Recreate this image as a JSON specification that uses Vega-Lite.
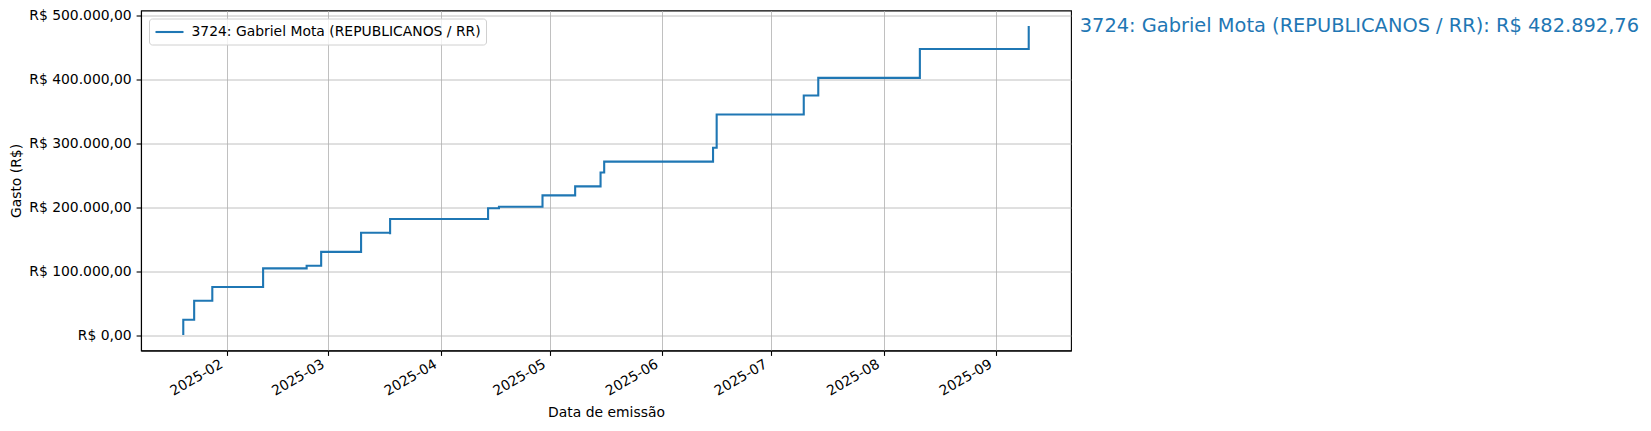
{
  "$schema": "https://vega.github.io/schema/vega-lite/v6.json",
  "width": 930,
  "height": 340,
  "autosize": {"type": "none"},
  "padding": {"left": 141, "top": 10.5, "right": 580, "bottom": 80.5},
  "background": "white",
  "config": {
    "locale": {"number": {"decimal": ",", "thousands": ".", "grouping": [3], "currency": ["R$ ", ""]}},
    "font": "DejaVu Sans",
    "view": {"stroke": "black", "strokeWidth": 1.1},
    "axis": {
      "labelFont": "DejaVu Sans", "labelFontSize": 13.9, "labelColor": "black",
      "titleFont": "DejaVu Sans", "titleFontSize": 13.9, "titleFontWeight": "normal", "titleColor": "black",
      "tickColor": "black", "tickSize": 4.9, "tickWidth": 1.1,
      "domainColor": "black", "domainWidth": 1.1,
      "grid": true, "gridColor": "#b0b0b0", "gridWidth": 0.8,
      "labelPadding": 4.9
    },
    "legend": {
      "orient": "top-left", "offset": 8, "padding": 5,
      "strokeColor": "#d0d0d0", "fillColor": "rgba(255,255,255,0.8)", "cornerRadius": 3,
      "symbolType": "M-2,0H2", "symbolSize": 196, "symbolStrokeWidth": 2.1, "symbolOffset": 7,
      "labelFont": "DejaVu Sans", "labelFontSize": 13.9, "labelColor": "black", "labelOffset": 13.5, "labelLimit": 1000
    }
  },
  "data": {
    "values": [
      {"data": "2025-01-20", "gasto": 0, "deputado": "3724: Gabriel Mota (REPUBLICANOS / RR)"},
      {"data": "2025-01-20", "gasto": 24000, "deputado": "3724: Gabriel Mota (REPUBLICANOS / RR)"},
      {"data": "2025-01-23", "gasto": 53600, "deputado": "3724: Gabriel Mota (REPUBLICANOS / RR)"},
      {"data": "2025-01-28", "gasto": 75000, "deputado": "3724: Gabriel Mota (REPUBLICANOS / RR)"},
      {"data": "2025-02-11", "gasto": 104200, "deputado": "3724: Gabriel Mota (REPUBLICANOS / RR)"},
      {"data": "2025-02-23", "gasto": 108300, "deputado": "3724: Gabriel Mota (REPUBLICANOS / RR)"},
      {"data": "2025-02-27", "gasto": 130000, "deputado": "3724: Gabriel Mota (REPUBLICANOS / RR)"},
      {"data": "2025-03-10", "gasto": 159900, "deputado": "3724: Gabriel Mota (REPUBLICANOS / RR)"},
      {"data": "2025-03-18", "gasto": 157500, "deputado": "3724: Gabriel Mota (REPUBLICANOS / RR)"},
      {"data": "2025-03-18", "gasto": 181300, "deputado": "3724: Gabriel Mota (REPUBLICANOS / RR)"},
      {"data": "2025-04-14", "gasto": 198000, "deputado": "3724: Gabriel Mota (REPUBLICANOS / RR)"},
      {"data": "2025-04-17", "gasto": 200500, "deputado": "3724: Gabriel Mota (REPUBLICANOS / RR)"},
      {"data": "2025-04-29", "gasto": 218200, "deputado": "3724: Gabriel Mota (REPUBLICANOS / RR)"},
      {"data": "2025-05-08", "gasto": 232300, "deputado": "3724: Gabriel Mota (REPUBLICANOS / RR)"},
      {"data": "2025-05-15", "gasto": 253900, "deputado": "3724: Gabriel Mota (REPUBLICANOS / RR)"},
      {"data": "2025-05-16", "gasto": 271000, "deputado": "3724: Gabriel Mota (REPUBLICANOS / RR)"},
      {"data": "2025-06-15", "gasto": 292700, "deputado": "3724: Gabriel Mota (REPUBLICANOS / RR)"},
      {"data": "2025-06-16", "gasto": 344500, "deputado": "3724: Gabriel Mota (REPUBLICANOS / RR)"},
      {"data": "2025-07-10", "gasto": 374300, "deputado": "3724: Gabriel Mota (REPUBLICANOS / RR)"},
      {"data": "2025-07-14", "gasto": 401800, "deputado": "3724: Gabriel Mota (REPUBLICANOS / RR)"},
      {"data": "2025-08-11", "gasto": 447000, "deputado": "3724: Gabriel Mota (REPUBLICANOS / RR)"},
      {"data": "2025-09-10", "gasto": 482892.76, "deputado": "3724: Gabriel Mota (REPUBLICANOS / RR)", "rotulo": "3724: Gabriel Mota (REPUBLICANOS / RR): R$ 482.892,76"}
    ]
  },
  "encoding": {
    "x": {
      "field": "data", "type": "temporal",
      "scale": {"type": "utc", "domain": [
        {"year": 2025, "month": 1, "date": 8, "hours": 8, "minutes": 24, "utc": true},
        {"year": 2025, "month": 9, "date": 21, "hours": 15, "minutes": 36, "utc": true}
      ]},
      "axis": {
        "title": "Data de emissão", "format": "%Y-%m",
        "values": [
          {"year": 2025, "month": 2, "date": 1, "utc": true},
          {"year": 2025, "month": 3, "date": 1, "utc": true},
          {"year": 2025, "month": 4, "date": 1, "utc": true},
          {"year": 2025, "month": 5, "date": 1, "utc": true},
          {"year": 2025, "month": 6, "date": 1, "utc": true},
          {"year": 2025, "month": 7, "date": 1, "utc": true},
          {"year": 2025, "month": 8, "date": 1, "utc": true},
          {"year": 2025, "month": 9, "date": 1, "utc": true}
        ],
        "labelAngle": -30, "labelAlign": "right", "labelBaseline": "top", "labelOffset": -9, "labelPadding": 1.5,
        "titleY": 62, "titleBaseline": "middle"
      }
    },
    "y": {
      "field": "gasto", "type": "quantitative",
      "scale": {"domain": [-24145, 507038], "nice": false, "zero": false},
      "axis": {
        "title": "Gasto (R$)", "format": "$,.2f",
        "values": [0, 100000, 200000, 300000, 400000, 500000],
        "titleX": -125, "titleY": 170, "titleAlign": "center", "titleBaseline": "middle", "titleAngle": -90
      }
    }
  },
  "layer": [
    {
      "mark": {"type": "line", "interpolate": "step-after", "strokeWidth": 2.1},
      "encoding": {
        "color": {"field": "deputado", "type": "nominal", "scale": {"range": ["#1f77b4"]}, "legend": {"title": null}},
        "order": [{"field": "data", "type": "temporal"}, {"field": "gasto", "type": "quantitative"}]
      }
    },
    {
      "transform": [{"filter": "isValid(datum.rotulo)"}],
      "mark": {"type": "text", "align": "left", "baseline": "middle", "dx": 51, "fontSize": 19.4, "font": "DejaVu Sans", "color": "#1f77b4"},
      "encoding": {"text": {"field": "rotulo"}}
    }
  ]
}
